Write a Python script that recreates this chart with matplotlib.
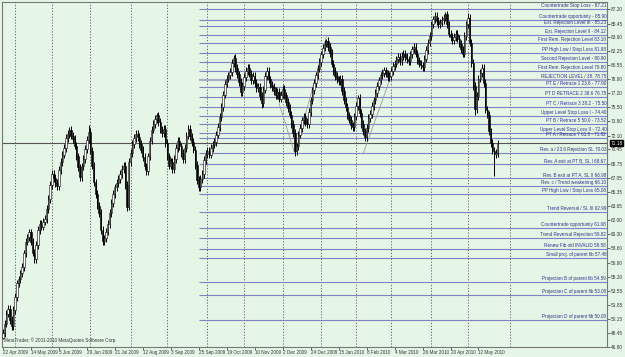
"""MetaTrader style daily candle chart with labelled horizontal levels."""

import matplotlib

matplotlib.use("Agg")
import matplotlib.pyplot as plt
from matplotlib.patches import Rectangle

# Daily closes (bar 0 = 22 Apr 2009)
CLOSES = [
    48.5, 49.6, 50.8, 51.4, 50.0, 49.3, 51.2, 52.8, 54.4, 54.9,
    55.6, 56.4, 58.0, 59.4, 59.9, 60.5, 59.4, 58.1, 57.3, 59.0,
    60.8, 61.5, 61.2, 61.8, 62.1, 63.3, 64.5, 66.2, 67.5, 67.0,
    66.4, 66.0, 68.0, 68.9, 69.8, 70.6, 71.8, 72.3, 72.8, 72.1,
    71.7, 70.9, 69.6, 68.3, 67.1, 68.4, 69.3, 70.5, 71.6, 72.5,
    70.3, 68.5, 66.5, 65.1, 63.7, 62.8, 60.8, 59.5, 59.8, 60.6,
    61.5, 62.8, 64.0, 65.1, 65.9, 66.4, 66.9, 67.5, 68.1, 68.5,
    66.2, 63.6, 68.9, 70.0, 71.1, 71.8, 72.3, 71.9, 71.1, 70.4,
    69.5, 68.4, 67.8, 69.6, 71.5, 72.8, 73.5, 74.1, 74.5, 73.7,
    72.8, 72.4, 72.9, 71.2, 69.6, 68.5, 68.9, 68.1, 69.3, 70.6,
    71.5, 70.8, 70.0, 69.3, 70.6, 72.1, 72.9, 72.0, 71.3, 70.4,
    68.6, 66.8, 65.9, 66.9, 67.5, 69.2, 69.9, 70.3, 69.8, 70.6,
    71.0, 71.3, 72.2, 73.1, 74.3, 75.5, 77.0, 78.3, 78.9, 79.3,
    79.7, 80.8, 81.4, 80.2, 79.4, 78.5, 77.3, 78.0, 79.1, 79.8,
    80.2, 79.5, 78.7, 79.2, 78.4, 77.8, 77.9, 76.8, 76.0, 77.6,
    79.2, 79.8, 78.8, 78.2, 77.9, 77.4, 76.9, 77.3, 76.5, 77.0,
    77.7, 76.9, 76.1, 75.4, 74.6, 73.5, 72.4, 70.2, 70.8, 72.2,
    73.0, 73.9, 74.3, 73.7, 73.5, 74.9, 76.3, 77.5, 78.4, 79.3,
    80.1, 80.9, 81.8, 82.6, 83.1, 83.4, 82.7, 82.0, 80.7, 79.8,
    79.2, 78.8, 78.6, 78.9, 77.4, 76.3, 75.5, 74.5, 74.0, 73.3,
    73.1, 74.4, 75.6, 76.6, 74.8, 73.5, 72.6, 71.9, 73.0, 74.2,
    74.7, 75.6, 76.3, 77.2, 78.0, 78.7, 79.3, 79.6, 79.9, 79.5,
    79.1, 79.2, 79.8, 80.4, 80.7, 81.2, 81.5, 81.0, 81.6, 81.9,
    81.5, 81.2, 81.0, 81.8, 82.4, 82.7, 81.9, 81.1, 80.7, 80.5,
    80.3, 81.3, 82.3, 83.2, 84.0, 85.4, 86.0, 86.4, 85.8, 85.4,
    85.6, 85.9, 86.2, 86.6, 85.4, 84.3, 83.9, 83.5, 83.9, 84.3,
    83.7, 83.1, 82.4, 81.9, 84.0, 85.4, 86.2, 83.2, 80.8, 78.0,
    75.3, 76.8, 78.9, 79.6, 80.2, 78.4, 75.2, 74.6, 72.6, 71.2,
    70.3, 69.9, 70.0, 71.1,
]
FIRST_OPEN = 47.9

# wick extremes that stand out from the body (bar index -> price)
SPIKE_HIGHS = {38: 73.1, 49: 73.4, 88: 74.8, 132: 81.7, 185: 83.7, 203: 77.0,
               253: 86.9, 266: 86.7}
SPIKE_LOWS = {0: 47.7, 57: 59.0, 71: 63.1, 112: 65.5, 148: 75.4, 167: 69.6,
              207: 71.4, 270: 74.6, 281: 67.2}

DATE_LABELS = [
    "22 Apr 2009", "14 May 2009", "5 Jun 2009", "29 Jun 2009", "21 Jul 2009",
    "12 Aug 2009", "3 Sep 2009", "25 Sep 2009", "19 Oct 2009", "10 Nov 2009",
    "2 Dec 2009", "24 Dec 2009", "15 Jan 2010", "8 Feb 2010", "4 Mar 2010",
    "26 Mar 2010", "20 Apr 2010", "12 May 2010",
]
MONTH_START_BARS = [7, 28, 50, 73, 94, 117, 138, 160, 182, 202, 222, 245, 266, 290]

PRICE_TICKS = [87.20, 85.45, 83.90, 82.25, 80.55, 78.90, 77.20, 75.50, 73.80,
               72.10, 70.45, 68.75, 67.05, 65.35, 63.65, 62.00, 60.30, 58.60,
               56.90, 55.20, 53.55, 51.85, 50.15, 48.45, 46.80]

LEVEL_PRICES = [87.21, 85.90, 85.23, 84.12, 83.18, 81.98, 80.90, 79.80, 78.75,
                77.90, 76.75, 75.50, 74.40, 73.52, 72.40, 71.82, 70.03, 68.67,
                66.98, 66.10, 65.08, 62.99, 61.08, 59.82, 58.58, 57.48, 54.59,
                53.08, 50.08]
LEVEL_NAMES = [
    "Countertrade Stop Loss - 87.21",
    "Countertrade opportunity - 85.90",
    "Ext. Rejection Level III - 85.23",
    "Ext. Rejection Level II - 84.12",
    "First Rem. Rejection Level 83.18",
    "PP High Low / Stop Loss 81.98",
    "Second Rejection Level - 80.90",
    "First Rem. Rejection Level 79.80",
    "REJECTION LEVEL / 38. 78.75",
    "PT E / Retrace 1 23.6 - 77.90",
    "PT D RETRACE 2 38.6 76.75",
    "PT C / Retrace 3 38.2 - 75.50",
    "Upper Level Stop Loss I - 74.40",
    "PT B / Retrace 5 50.0 - 73.52",
    "Upper Level Stop Loss II - 72.40",
    "PT A / Retrace 7 61.8 - 71.82",
    "Rev. a / 23.6 Rejection SL 70.03",
    "Rev. A exit at PT B, SL I 68.67",
    "Rev. B exit at PT A, SL II 66.98",
    "Rev. c / Trend weakening 66.10",
    "PP High Low / Stop Loss 65.08",
    "Trend Reversal / SL III 62.99",
    "Countertrade opportunity 61.08",
    "Trend Reversal Rejection 59.82",
    "Renew Fib old INVALID 58.58",
    "Small proj. of parent fib 57.48",
    "Projection B of parent fib 54.59",
    "Projection C of parent fib 53.08",
    "Projection D of parent fib 50.08",
]
LEVEL_START_BAR = 112
BID_PRICE = 71.18

# thin grey drawing lines (bar index, price)
DRAWN_LINES = [
    [(158, 75.9), (167, 69.9), (185, 83.9)],
    [(206, 69.9), (221, 78.6)],
]

BG = "#e6f6e6"
LEVEL_COLOR = "#8080c4"
TEXT_COLOR = "#30308a"

plt.rcParams["font.family"] = ["Liberation Sans", "DejaVu Sans"]

fig = plt.figure(figsize=(6.25, 3.57), dpi=100)
fig.patch.set_facecolor(BG)
ax = fig.add_axes([2 / 625, 10 / 357, 605 / 625, 345 / 357])
ax.set_facecolor(BG)
ax.set_xlim(-0.5, 345.5)
ax.set_ylim(46.80, 88.07)

for bar in MONTH_START_BARS:
    ax.axvline(bar, color="#555555", lw=0.6, ls=(0, (1.5, 2)), zorder=1)

for price, name in zip(LEVEL_PRICES, LEVEL_NAMES):
    strong = name.startswith("REJECTION")
    ax.hlines(price, LEVEL_START_BAR, 345.5,
              color="#a8a8cc" if strong else LEVEL_COLOR,
              lw=1.5 if strong else 0.8, zorder=2)
    ax.annotate(name, (345, price), xytext=(0, 0.7), textcoords="offset points",
                ha="right", va="bottom", fontsize=3.3, color=TEXT_COLOR, zorder=5)

ax.axhline(BID_PRICE, color="#555555", lw=0.8, zorder=2)

for pts in DRAWN_LINES:
    ax.plot([p[0] for p in pts], [p[1] for p in pts], color="#9a9a9a", lw=0.6, zorder=3)

opens = [FIRST_OPEN] + CLOSES[:-1]
for i, (o, c) in enumerate(zip(opens, CLOSES)):
    hi = SPIKE_HIGHS.get(i, max(o, c) + 0.45)
    lo = SPIKE_LOWS.get(i, min(o, c) - 0.45)
    ax.vlines(i, lo, hi, color="black", lw=0.7, zorder=4)
    bottom = min(o, c)
    height = max(abs(c - o), 0.08)
    face = "white" if c >= o else "black"
    ax.add_patch(Rectangle((i - 0.4, bottom), 0.8, height, facecolor=face,
                           edgecolor="black", lw=0.4, zorder=4))

ax.yaxis.tick_right()
ax.set_yticks(PRICE_TICKS)
ax.set_yticklabels([f"{p:.2f}" for p in PRICE_TICKS])
ax.tick_params(axis="y", labelsize=3.4, length=2, width=0.5, pad=1, colors="#333333")
ax.set_xticks([16 * i for i in range(len(DATE_LABELS))])
ax.set_xticklabels(DATE_LABELS, ha="left")
ax.tick_params(axis="x", labelsize=3.3, length=2, width=0.5, pad=0.5, colors="#333333")
for spine in ax.spines.values():
    spine.set_color("#777777")
    spine.set_linewidth(0.8)

ax.text(347.5, BID_PRICE, f"{BID_PRICE:.2f}", fontsize=3.4, color="white",
        va="center", ha="left", clip_on=False, zorder=6,
        bbox=dict(boxstyle="square,pad=0.15", fc="black", ec="black"))

ax.text(0.5, 47.6, "MetaTrader, \u00a9 2001-2010 MetaQuotes Software Corp.",
        fontsize=3.3, color="#333333", ha="left", va="center", zorder=6)

fig.savefig("out.png", dpi=100, facecolor=BG)
